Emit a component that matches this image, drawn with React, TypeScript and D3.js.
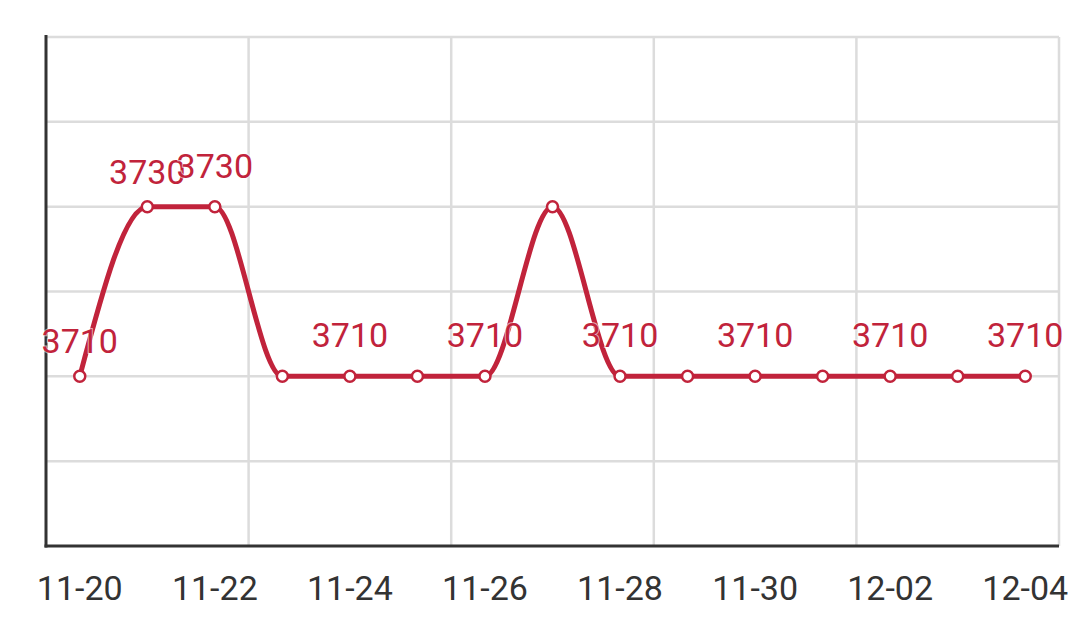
import React from "react";
import * as d3 from "d3";

const categories = ["11-20","11-21","11-22","11-23","11-24","11-25","11-26","11-27","11-28","11-29","11-30","12-01","12-02","12-03","12-04"];
const values = [3710, 3730, 3730, 3710, 3710, 3710, 3710, 3730, 3710, 3710, 3710, 3710, 3710, 3710, 3710];
const labeledIndices = [0, 1, 2, 4, 6, 8, 10, 12, 14];
const yTicks = [3690, 3700, 3710, 3720, 3730, 3740, 3750];

const W = 1080, H = 641;
const left = 46, right = 1059, top = 37, bottom = 546;
const RED = "#C1233B";
const FONT = "Roboto, 'Noto Sans', sans-serif";

export default function App() {
  const x = d3.scaleBand<string>().domain(categories).range([left, right]).padding(0);
  const bw = x.bandwidth();
  const cx = (c: string) => (x(c) as number) + bw / 2;
  const y = d3.scaleLinear().domain([3690, 3750]).range([bottom, top]);

  const pts: [number, number][] = categories.map((c, i) => [cx(c), y(values[i])]);
  const line = d3.line<[number, number]>().x(d => d[0]).y(d => d[1]).curve(d3.curveMonotoneX);

  const vGrid: number[] = [];
  categories.forEach((c, i) => { if (i > 0 && i % 3 === 0) vGrid.push(x(c) as number); });
  vGrid.push(right);

  return (
    <svg width={W} height={H} style={{ position: "absolute", left: 0, top: 0, background: "#fff" }}>
      {/* horizontal grid */}
      {yTicks.filter(t => t !== 3690).map(t => (
        <line key={"h" + t} x1={left} x2={right} y1={y(t)} y2={y(t)} stroke="#DCDCDC" strokeWidth={2.5} />
      ))}
      {/* vertical grid */}
      {vGrid.map((gx, i) => (
        <line key={"v" + i} x1={gx} x2={gx} y1={top} y2={bottom} stroke="#DCDCDC" strokeWidth={2.5} />
      ))}
      {/* axes */}
      <line x1={left} x2={left} y1={top - 2} y2={bottom + 1.5} stroke="#333" strokeWidth={3} />
      <line x1={left - 1.5} x2={right} y1={bottom} y2={bottom} stroke="#333" strokeWidth={3} />
      {/* x tick labels */}
      {categories.map((c, i) => i % 2 === 0 ? (
        <text key={"t" + c} x={cx(c)} y={600} textAnchor="middle" fontFamily={FONT} fontSize={34} fill="#333">{c}</text>
      ) : null)}
      {/* line */}
      <path d={line(pts) || ""} fill="none" stroke={RED} strokeWidth={5} strokeLinejoin="round" />
      {/* points */}
      {pts.map((p, i) => (
        <circle key={"p" + i} cx={p[0]} cy={p[1]} r={5.5} fill="#fff" stroke={RED} strokeWidth={2.5} />
      ))}
      {/* data labels */}
      {labeledIndices.map(i => {
        const dy = i === 0 || i === 1 ? 23 : 29;
        return (
          <text key={"l" + i} x={pts[i][0]} y={pts[i][1] - dy} textAnchor="middle" fontFamily={FONT} fontSize={34}
            fill={RED} stroke="rgba(255,255,255,0.6)" strokeWidth={2} paintOrder="stroke">{values[i]}</text>
        );
      })}
    </svg>
  );
}
